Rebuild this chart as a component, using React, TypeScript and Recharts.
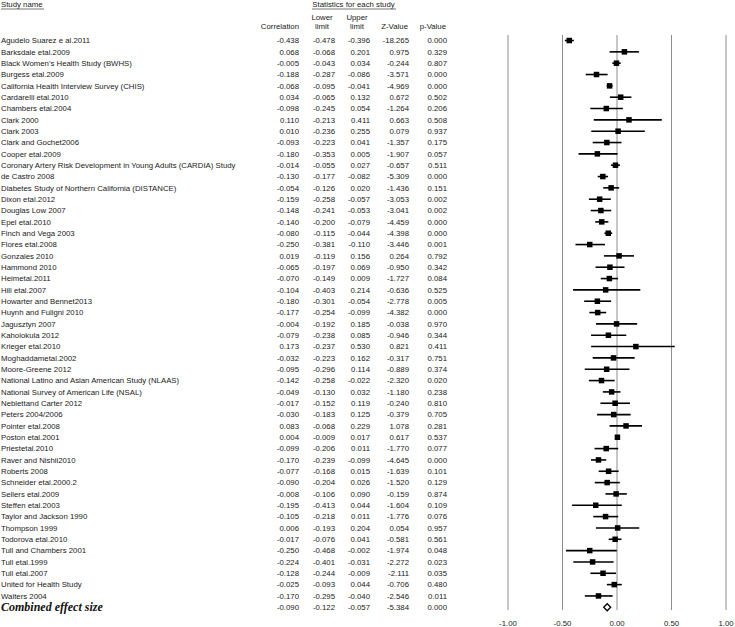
import { ScatterChart, Scatter, XAxis, YAxis, CartesianGrid, ErrorBar } from 'recharts';

const studyNames = [
  'Agudelo Suarez e al.2011',
  'Barksdale etal.2009',
  "Black Women's Health Study (BWHS)",
  'Burgess etal.2009',
  'California Health Interview Survey (CHIS)',
  'Cardarelli etal.2010',
  'Chambers etal.2004',
  'Clark 2000',
  'Clark 2003',
  'Clark and Gochet2006',
  'Cooper etal.2009',
  'Coronary Artery Risk Development in Young Adults (CARDIA) Study',
  'de Castro 2008',
  'Diabetes Study of Northern California (DISTANCE)',
  'Dixon etal.2012',
  'Douglas Low 2007',
  'Epel etal.2010',
  'Finch and Vega 2003',
  'Flores etal.2008',
  'Gonzales 2010',
  'Hammond 2010',
  'Heimetal.2011',
  'Hill etal.2007',
  'Howarter and Bennet2013',
  'Huynh and Fuligni 2010',
  'Jagusztyn 2007',
  'Kaholokula 2012',
  'Krieger etal.2010',
  'Moghaddametal.2002',
  'Moore-Greene 2012',
  'National Latino and Asian American Study (NLAAS)',
  'National Survey of American Life (NSAL)',
  'Neblettand Carter 2012',
  'Peters 2004/2006',
  'Pointer etal.2008',
  'Poston etal.2001',
  'Priestetal.2010',
  'Raver and Nishii2010',
  'Roberts 2008',
  'Schneider etal.2000.2',
  'Sellers etal.2009',
  'Steffen etal.2003',
  'Taylor and Jackson 1990',
  'Thompson 1999',
  'Todorova etal.2010',
  'Tull and Chambers 2001',
  'Tull etal.1999',
  'Tull etal.2007',
  'United for Health Study',
  'Walters 2004',
  'Combined effect size',
];

const correlation = [
  -0.438, 0.068, -0.005, -0.188, -0.068, 0.034, -0.098, 0.11, 0.01, -0.093, -0.18, -0.014, -0.13,
  -0.054, -0.159, -0.148, -0.14, -0.08, -0.25, 0.019, -0.065, -0.07, -0.104, -0.18, -0.177, -0.004,
  -0.079, 0.173, -0.032, -0.095, -0.142, -0.049, -0.017, -0.03, 0.083, 0.004, -0.099, -0.17, -0.077,
  -0.09, -0.008, -0.195, -0.105, 0.006, -0.017, -0.25, -0.224, -0.128, -0.025, -0.17, -0.09,
];

const lowerLimit = [
  -0.478, -0.068, -0.043, -0.287, -0.095, -0.065, -0.245, -0.213, -0.236, -0.223, -0.353, -0.055,
  -0.177, -0.126, -0.258, -0.241, -0.2, -0.115, -0.381, -0.119, -0.197, -0.149, -0.403, -0.301,
  -0.254, -0.192, -0.238, -0.237, -0.223, -0.296, -0.258, -0.13, -0.152, -0.183, -0.068, -0.009,
  -0.206, -0.239, -0.168, -0.204, -0.106, -0.413, -0.218, -0.193, -0.076, -0.468, -0.401, -0.244,
  -0.093, -0.295, -0.122,
];

const upperLimit = [
  -0.396, 0.201, 0.034, -0.086, -0.041, 0.132, 0.054, 0.411, 0.255, 0.041, 0.005, 0.027, -0.082,
  0.02, -0.057, -0.053, -0.079, -0.044, -0.11, 0.156, 0.069, 0.009, 0.214, -0.054, -0.099, 0.185,
  0.085, 0.53, 0.162, 0.114, -0.022, 0.032, 0.119, 0.125, 0.229, 0.017, 0.011, -0.099, 0.015, 0.026,
  0.09, 0.044, 0.011, 0.204, 0.041, -0.002, -0.031, -0.009, 0.044, -0.04, -0.057,
];

const zValue = [
  -18.265, 0.975, -0.244, -3.571, -4.969, 0.672, -1.264, 0.663, 0.079, -1.357, -1.907, -0.657,
  -5.309, -1.436, -3.053, -3.041, -4.459, -4.398, -3.446, 0.264, -0.95, -1.727, -0.636, -2.778,
  -4.382, -0.038, -0.946, 0.821, -0.317, -0.889, -2.32, -1.18, -0.24, -0.379, 1.078, 0.617, -1.77,
  -4.645, -1.639, -1.52, -0.159, -1.604, -1.776, 0.054, -0.581, -1.974, -2.272, -2.111, -0.706,
  -2.546, -5.384,
];

const pValue = [
  0.0, 0.329, 0.807, 0.0, 0.0, 0.502, 0.206, 0.508, 0.937, 0.175, 0.057, 0.511, 0.0, 0.151, 0.002,
  0.002, 0.0, 0.0, 0.001, 0.792, 0.342, 0.084, 0.525, 0.005, 0.0, 0.97, 0.344, 0.411, 0.751, 0.374,
  0.02, 0.238, 0.81, 0.705, 0.281, 0.537, 0.077, 0.0, 0.101, 0.129, 0.874, 0.109, 0.076, 0.957,
  0.561, 0.048, 0.023, 0.035, 0.48, 0.011, 0.0,
];

const xTicks = [-1, -0.5, 0, 0.5, 1];

const rows = studyNames.map((name, i) => ({
  row: i + 1,
  name,
  r: correlation[i],
  lo: lowerLimit[i],
  hi: upperLimit[i],
  z: zValue[i],
  p: pValue[i],
  ci: [correlation[i] - lowerLimit[i], upperLimit[i] - correlation[i]],
}));
const studies = rows.slice(0, rows.length - 1);
const combined = rows.slice(rows.length - 1);

const TXT = '#1a1a1a';
const FONT = '"Liberation Sans", Arial, sans-serif';
const FS = 7.8;

function RowTick(props: any) {
  const { y, payload } = props;
  const d = rows[payload.value - 1];
  if (!d) return null;
  const last = d.row === rows.length;
  const cols = [
    { x: 299, v: d.r },
    { x: 335, v: d.lo },
    { x: 370, v: d.hi },
    { x: 409, v: d.z },
    { x: 447, v: d.p },
  ];
  return (
    <g>
      {last ? (
        <text x={1} y={y} dy="0.35em" fontFamily='"Liberation Serif", "Times New Roman", serif' fontWeight="bold" fontStyle="italic" fontSize={12} fill="#111">
          {d.name}
        </text>
      ) : (
        <text x={1} y={y} dy="0.35em" fontFamily={FONT} fontSize={FS} fill={TXT}>
          {d.name}
        </text>
      )}
      {cols.map((c, i) => (
        <text key={i} x={c.x} y={y} dy="0.35em" textAnchor="end" fontFamily={FONT} fontSize={FS} fill={TXT}>
          {c.v.toFixed(3)}
        </text>
      ))}
    </g>
  );
}

function Square(props: any) {
  const { cx, cy } = props;
  return <rect x={cx - 2.75} y={cy - 2.75} width={5.5} height={5.5} fill="#000" />;
}

function Diamond(props: any) {
  const { cx, cy } = props;
  return (
    <polygon
      points={`${cx - 3.5},${cy} ${cx},${cy - 3.5} ${cx + 3.5},${cy} ${cx},${cy + 3.5}`}
      fill="#fff"
      stroke="#000"
      strokeWidth={1.3}
    />
  );
}

export default function App() {
  return (
    <div style={{ position: 'absolute', left: 0, top: 0, width: 735, height: 627, background: '#fff' }}>
      <ScatterChart width={735} height={627} margin={{ top: 35, right: 9, bottom: 0, left: 0 }}>
        <CartesianGrid horizontal={false} stroke="#8c8c8c" strokeWidth={1} />
        <XAxis
          type="number"
          dataKey="r"
          domain={[-1, 1]}
          ticks={xTicks}
          tickFormatter={(v: number) => v.toFixed(2)}
          axisLine={false}
          tickLine={false}
          height={17}
          tickMargin={4}
          tick={{ fontSize: FS, fill: TXT, fontFamily: FONT }}
        />
        <YAxis
          type="number"
          dataKey="row"
          domain={[0.513, 51.24]}
          reversed
          ticks={rows.map((d) => d.row)}
          interval={0}
          width={508}
          axisLine={false}
          tickLine={false}
          tick={<RowTick />}
        />
        <Scatter data={studies} shape={<Square />} isAnimationActive={false}>
          <ErrorBar dataKey="ci" direction="x" width={0} stroke="#000" strokeWidth={1.6} />
        </Scatter>
        <Scatter data={combined} shape={<Diamond />} isAnimationActive={false} />
      </ScatterChart>
      <svg width={735} height={35} style={{ position: 'absolute', left: 0, top: 0 }} fontFamily={FONT} fontSize={FS} fill={TXT}>
        <text x={1} y={7}>Study name</text>
        <line x1={1} x2={44} y1={9} y2={9} stroke={TXT} strokeWidth={0.6} />
        <text x={353.5} y={7} textAnchor="middle">Statistics for each study</text>
        <line x1={312} x2={396} y1={9} y2={9} stroke={TXT} strokeWidth={0.6} />
        <text x={299} y={29} textAnchor="end">Correlation</text>
        <text x={322} y={20} textAnchor="middle">Lower</text>
        <text x={322} y={29} textAnchor="middle">limit</text>
        <text x={357} y={20} textAnchor="middle">Upper</text>
        <text x={357} y={29} textAnchor="middle">limit</text>
        <text x={408} y={29} textAnchor="end">Z-Value</text>
        <text x={446} y={29} textAnchor="end">p-Value</text>
      </svg>
    </div>
  );
}
